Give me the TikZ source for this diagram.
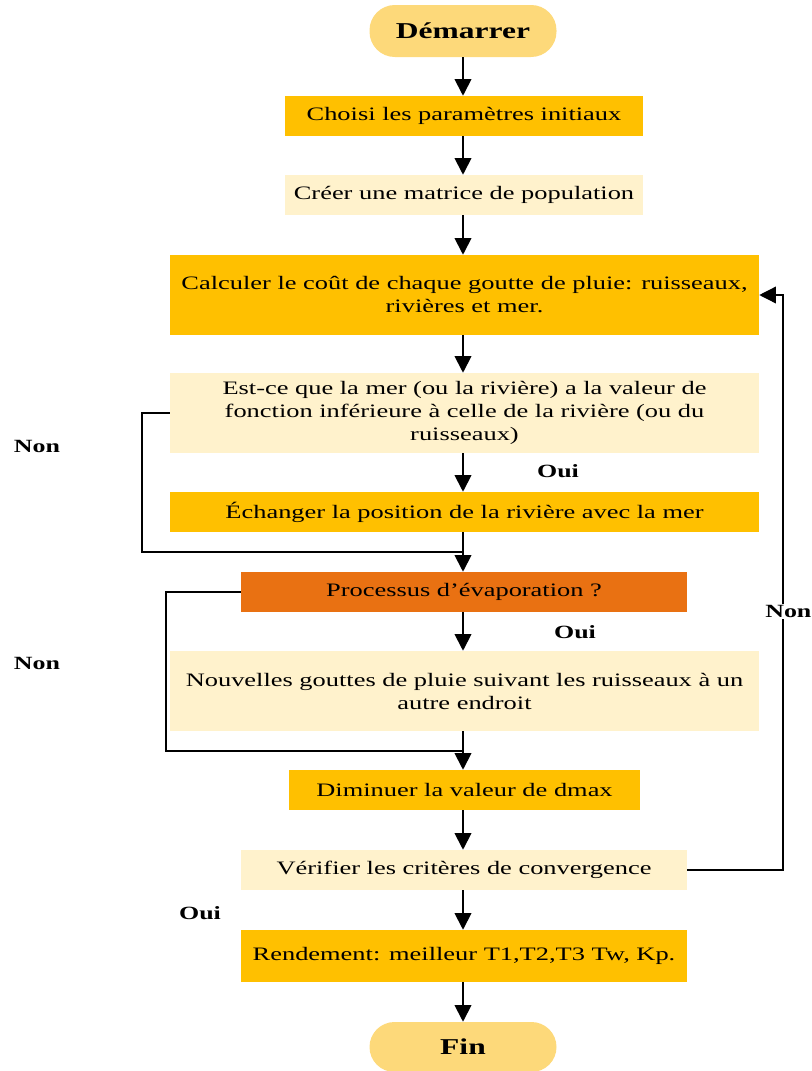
\documentclass[tikz,border=0pt]{standalone}
\usepackage{fontspec}
\setmainfont{Liberation Serif}[FakeStretch=1.39]
\usetikzlibrary{arrows.meta}
\definecolor{gold}{HTML}{FFC000}
\definecolor{cream}{HTML}{FFF2CC}
\definecolor{burnt}{HTML}{E97112}
\definecolor{pale}{HTML}{FDD97A}
\begin{document}
\begin{tikzpicture}[x=0.75pt,y=-0.75pt,
  box/.style={rectangle, inner sep=0pt, align=center,
    font=\fontsize{14.25}{17.25}\selectfont, text=black},
  goldbox/.style={box, fill=gold},
  creambox/.style={box, fill=cream},
  orangebox/.style={box, fill=burnt},
  term/.style={rectangle, rounded corners=19pt, fill=pale, inner sep=0pt,
    minimum width=140.25pt, font=\fontsize{17}{20}\selectfont\bfseries},
  flow/.style={-{Triangle[width=12.5pt,length=12.5pt]}, line width=1.4pt},
  back/.style={line width=1pt},
  tag/.style={font=\fontsize{14}{16}\selectfont\bfseries}
]
\useasboundingbox (0,0) rectangle (811,1071);

% terminals and process boxes
\node[term, minimum height=39pt] (start) at (463,31) {Démarrer};
\node[goldbox, minimum width=268.5pt, minimum height=30pt] (b1) at (464,116) {Choisi les paramètres initiaux};
\node[creambox, minimum width=268.5pt, minimum height=30pt] (b2) at (464,195) {Créer une matrice de population};
\node[goldbox, minimum width=441.75pt, minimum height=60pt] (b3) at (464.5,295)
  {Calculer le coût de chaque goutte de pluie: ruisseaux,\\ rivières et mer.};
\node[creambox, minimum width=441.75pt, minimum height=60pt] (b4) at (464.5,413)
  {Est-ce que la mer (ou la rivière) a la valeur de\\ fonction inférieure à celle de la rivière (ou du\\ ruisseaux)};
\node[goldbox, minimum width=441.75pt, minimum height=30pt] (b5) at (464.5,512)
  {Échanger la position de la rivière avec la mer};
\node[orangebox, minimum width=334.5pt, minimum height=30pt] (b6) at (464,592)
  {Processus d’évaporation ?};
\node[creambox, minimum width=441.75pt, minimum height=60pt] (b7) at (464.5,691)
  {Nouvelles gouttes de pluie suivant les ruisseaux à un\\ autre endroit};
\node[goldbox, minimum width=263.25pt, minimum height=30pt] (b8) at (464.5,790)
  {Diminuer la valeur de dmax};
\node[creambox, minimum width=334.5pt, minimum height=30pt] (b9) at (464,870)
  {Vérifier les critères de convergence};
\node[goldbox, minimum width=334.5pt, minimum height=39pt] (b10) at (464,956)
  {Rendement: meilleur T1,T2,T3 Tw, Kp.};
\node[term, minimum height=37.5pt, rounded corners=18.75pt] (fin) at (463,1047) {Fin};

% main vertical flow
\draw[flow] (start.south -| 463,0) -- (b1.north -| 463,0);
\draw[flow] (b1.south -| 463,0) -- (b2.north -| 463,0);
\draw[flow] (b2.south -| 463,0) -- (b3.north -| 463,0);
\draw[flow] (b3.south -| 463,0) -- (b4.north -| 463,0);
\draw[flow] (b4.south -| 463,0) -- (b5.north -| 463,0);
\draw[flow] (b5.south -| 463,0) -- (b6.north -| 463,0);
\draw[flow] (b6.south -| 463,0) -- (b7.north -| 463,0);
\draw[flow] (b7.south -| 463,0) -- (b8.north -| 463,0);
\draw[flow] (b8.south -| 463,0) -- (b9.north -| 463,0);
\draw[flow] (b9.south -| 463,0) -- (b10.north -| 463,0);
\draw[flow] (b10.south -| 463,0) -- (fin.north -| 463,0);

% bypass branches
\coordinate (j1) at (463,552);
\coordinate (j2) at (463,751);
\draw[back] (b4.west) -- (142,413) |- (j1);
\draw[back] (b6.west) -- (166,592) |- (j2);
\draw[back, -{Triangle[width=12.5pt,length=12.5pt]}] (b9.east) -- (783,870)
  -- node[pos=0.45, fill=white, inner sep=1pt, xshift=4, tag] {Non} (783,295) -- (b3.east);

% branch labels
\node[tag] (n1) at (37,446) {Non};
\node[tag] (n2) at (37,663) {Non};
\node[tag] (o1) at (558,471) {Oui};
\node[tag] (o2) at (575,632) {Oui};
\node[tag] (o3) at (200,913) {Oui};
\end{tikzpicture}
\end{document}
